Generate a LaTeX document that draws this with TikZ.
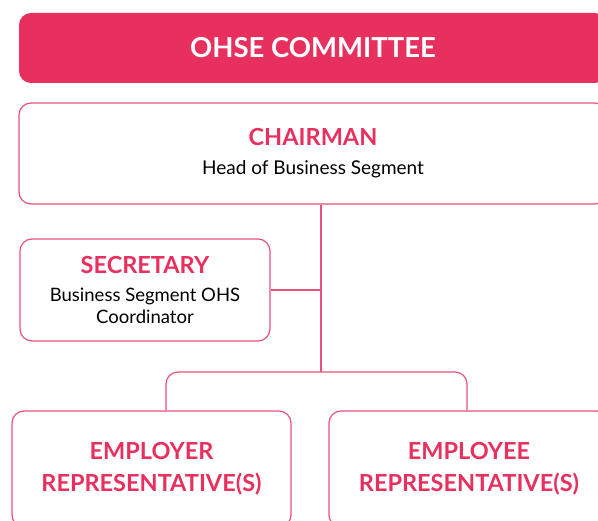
\documentclass[tikz,border=0pt]{standalone}
\usepackage{fontspec}
\setmainfont{Lato}
\definecolor{ohsepink}{HTML}{E8305F}
\definecolor{ohseline}{HTML}{E9507A}
\tikzset{
  rolebox/.style={draw=ohseline, line width=1.2pt, rounded corners=12pt, fill=white, align=center, inner sep=0pt},
  rolehead/.style={font=\bfseries\fontsize{23.5}{32}\selectfont, text=ohsepink},
  link/.style={draw=ohseline, line width=1.2pt}
}
\newcommand{\rolename}[1]{\textcolor{ohsepink}{\bfseries\fontsize{23.5}{26}\selectfont #1}}
\begin{document}
\begin{tikzpicture}[x=1pt,y=-1pt]
\clip (0,0) rectangle (598,521);
\fill[white] (0,0) rectangle (598,521);
% title bar
\node[fill=ohsepink, rounded corners=12pt, minimum width=588pt, minimum height=70pt, text=white, font=\bfseries\fontsize{27.5}{32}\selectfont] (title) at (313,48) {OHSE COMMITTEE};
% boxes
\node[rolebox, minimum width=588pt, minimum height=101pt, font=\fontsize{19}{22}\selectfont] (chair) at (313,153.5) {\rolename{CHAIRMAN}\\[7pt]Head of Business Segment};
\node[rolebox, minimum width=250pt, minimum height=102pt, font=\fontsize{18.5}{22}\selectfont] (sec) at (145,290) {\rolename{SECRETARY}\\[6pt]Business Segment OHS\\Coordinator};
\node[rolebox, rolehead, minimum width=279pt, minimum height=116pt] (emplr) at (151.5,469) {EMPLOYER\\REPRESENTATIVE(S)};
\node[rolebox, rolehead, minimum width=280pt, minimum height=116pt] (emplee) at (469,469) {EMPLOYEE\\REPRESENTATIVE(S)};
% connectors
\coordinate (fork) at (321,372);
\coordinate (forkl) at (166,372);
\coordinate (forkr) at (467,372);
\draw[link] (chair.south -| fork) -- (fork);
\draw[link] (sec.east) -- (sec.east -| fork);
\draw[link, rounded corners=12pt] (emplr.north -| forkl) -- (forkl) -- (forkr) -- (emplee.north -| forkr);
\end{tikzpicture}
\end{document}
